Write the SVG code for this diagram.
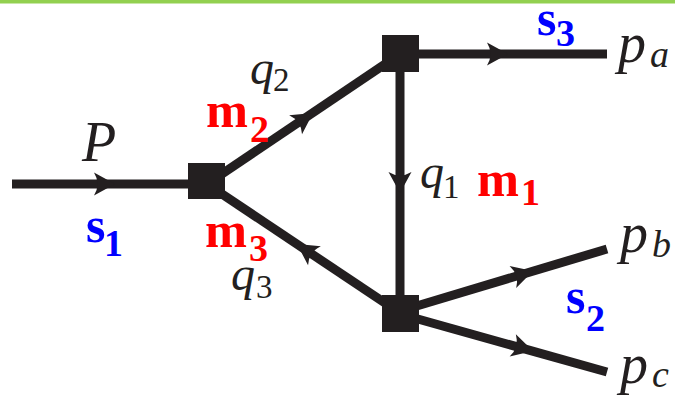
<svg xmlns="http://www.w3.org/2000/svg" width="675" height="395" viewBox="0 0 675 395">
<defs>
<style>
.ln{stroke:#231f20;stroke-width:9;fill:none;stroke-linecap:butt}
.sq{fill:#231f20}
.ah{fill:#231f20}
.it{font-style:italic;fill:#231f20}
.up{fill:#231f20}
.m{font-weight:bold;fill:#ff0000}
.s{font-weight:bold;fill:#0000ff}
</style>
<path id="arrow" d="M0,0 L-21,-11.5 Q-14,0 -21,11.5 Z"/>
</defs>
<rect x="0" y="0" width="675" height="3.5" fill="#92d050"/>
<g id="connectors">
<line class="ln" x1="12" y1="184" x2="200" y2="184"/>
<line class="ln" x1="207" y1="184" x2="400" y2="54"/>
<line class="ln" x1="207" y1="184" x2="400" y2="313"/>
<line class="ln" x1="400" y1="54" x2="607" y2="54"/>
<line class="ln" x1="400" y1="54" x2="400" y2="313"/>
<line class="ln" x1="400" y1="311" x2="607" y2="249"/>
<line class="ln" x1="400" y1="314" x2="607" y2="372"/>
<use href="#arrow" class="ah" transform="translate(115,184)"/>
<use href="#arrow" class="ah" transform="translate(313,113) rotate(-34)"/>
<use href="#arrow" class="ah" transform="translate(508,54)"/>
<use href="#arrow" class="ah" transform="translate(400,193) rotate(90)"/>
<use href="#arrow" class="ah" transform="translate(297,244) rotate(-146.2)"/>
<use href="#arrow" class="ah" transform="translate(533,271) rotate(-16.7)"/>
<use href="#arrow" class="ah" transform="translate(533,351) rotate(15.6)"/>
</g>
<g id="v1"><rect class="sq" x="188" y="163" width="37" height="36"/></g>
<g id="v2"><rect class="sq" x="382" y="35" width="37" height="37"/></g>
<g id="v3"><rect class="sq" x="382" y="295" width="37" height="37"/></g>
<g id="labels" font-family="Liberation Serif, serif">
<text class="it" x="82" y="161" font-size="56">P</text>
<text class="s" x="86" y="242" font-size="50">s</text><text class="s" x="104" y="256" font-size="38">1</text>
<text class="m" x="206" y="127" font-size="50" textLength="42" lengthAdjust="spacingAndGlyphs">m</text><text class="m" x="250" y="142" font-size="38">2</text>
<text class="it" x="250" y="84" font-size="48">q</text><text class="up" x="273" y="91" font-size="33">2</text>
<text class="m" x="205" y="247" font-size="50" textLength="42" lengthAdjust="spacingAndGlyphs">m</text><text class="m" x="249" y="261" font-size="38">3</text>
<text class="it" x="231" y="290" font-size="48">q</text><text class="up" x="256" y="298" font-size="33">3</text>
<text class="it" x="420" y="188" font-size="48">q</text><text class="up" x="443" y="198" font-size="33">1</text>
<text class="m" x="477" y="196" font-size="50" textLength="42" lengthAdjust="spacingAndGlyphs">m</text><text class="m" x="521" y="205" font-size="38">1</text>
<text class="s" x="537" y="35" font-size="50">s</text><text class="s" x="556" y="46" font-size="38">3</text>
<text class="s" x="566" y="313" font-size="50">s</text><text class="s" x="586" y="331" font-size="38">2</text>
<text class="it" x="618" y="62" font-size="56">p</text><text class="it" x="650" y="67" font-size="38">a</text>
<text class="it" x="620" y="252" font-size="56">p</text><text class="it" x="652" y="257" font-size="38">b</text>
<text class="it" x="620" y="383" font-size="56">p</text><text class="it" x="652" y="387" font-size="38">c</text>
</g>
</svg>
